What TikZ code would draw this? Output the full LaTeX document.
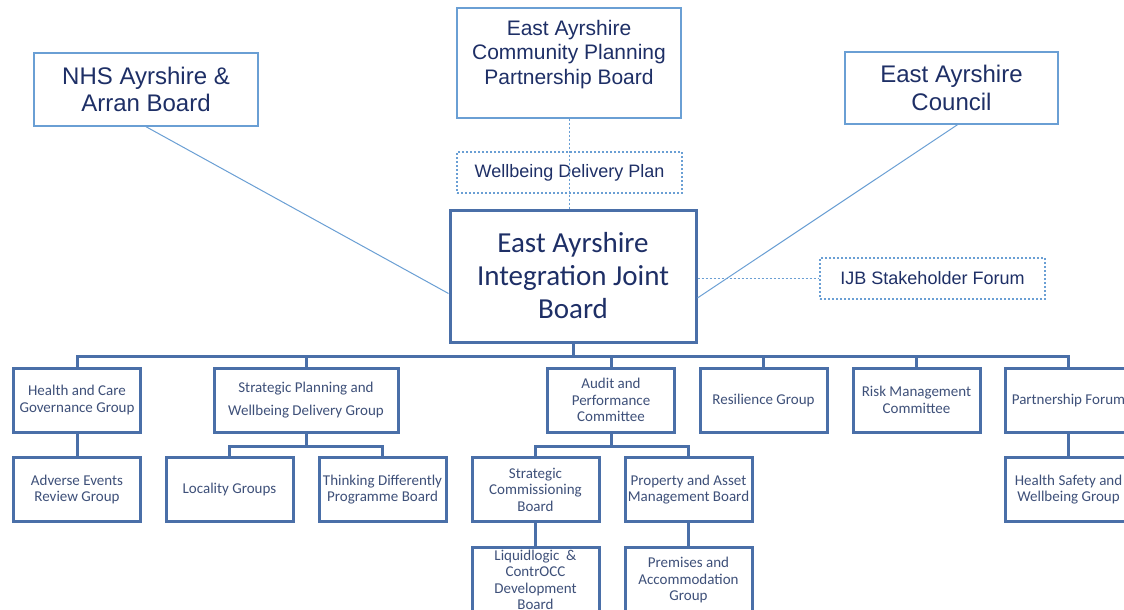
\documentclass[tikz,border=0pt]{standalone}
\usepackage{fontspec}
\newfontfamily\arialfont{Liberation Sans}
\newfontfamily\calfont{Carlito}
\usetikzlibrary{positioning}

\definecolor{boardblue}{HTML}{6A9FD4}
\definecolor{navy}{HTML}{1E2F66}
\definecolor{steel}{HTML}{4A6FA8}
\definecolor{slate}{HTML}{3E5079}

\tikzset{
  board/.style={draw=boardblue, line width=1.4pt, text=navy, align=center, inner sep=0pt},
  planbox/.style={draw=boardblue, line width=1.2pt, dash pattern=on 2pt off 2pt, text=navy,
    align=center, inner sep=0pt, font=\arialfont\fontsize{18}{20}\selectfont},
  link/.style={draw=boardblue, line width=1pt},
  dotlink/.style={draw=boardblue, line width=1pt, dash pattern=on 2pt off 2pt},
  group/.style={draw=steel, line width=3pt, text=slate, align=center, inner sep=0pt,
    minimum width=127pt, minimum height=64pt, font=\calfont\fontsize{15}{16.5}\selectfont},
  tree/.style={draw=steel, line width=3pt}
}

\begin{document}
\begin{tikzpicture}[x=1pt, y=-1pt]
    \path[use as bounding box, clip] (0,0) rectangle (1124,610);
    \fill[white] (0,0) rectangle (1124,610);

    % Partner bodies
    \node[board, minimum width=224pt, minimum height=73pt, font=\arialfont\fontsize{24}{27}\selectfont]
      (nhs) at (146,89.5) {NHS Ayrshire \&\\Arran Board};
    \node[board, minimum width=224pt, minimum height=110pt, text depth=22pt,
      font=\arialfont\fontsize{21}{24.5}\selectfont]
      (cpp) at (569,63) {East Ayrshire\\Community Planning\\Partnership Board};
    \node[board, minimum width=213pt, minimum height=72pt, font=\arialfont\fontsize{24}{28}\selectfont]
      (eac) at (951.5,88) {East Ayrshire\\Council};

    \node[planbox, minimum width=225pt, minimum height=41pt] (wdp) at (569.5,172.5) {Wellbeing Delivery Plan};
    \node[planbox, minimum width=225pt, minimum height=41pt] (sth) at (932.5,278.5) {IJB Stakeholder Forum};

    % IJB
    \node[draw=steel, line width=3pt, text=navy, align=center, inner sep=0pt,
      minimum width=246pt, minimum height=132pt, font=\calfont\fontsize{29}{33}\selectfont]
      (ijb) at (573,276) {East Ayrshire\\Integration Joint\\Board};

    \draw[link] (nhs.south) -- (ijb.188);
    \draw[link] ([xshift=6pt]eac.south) -- (ijb.350);
    \draw[dotlink] (cpp.south) -- (cpp.south |- ijb.north);
    \draw[dotlink] (sth.west -| ijb.east) -- (sth.west);

    % Committees and groups
    \node[group] (hcg) at (77,400) {Health and Care\\Governance Group};
    \node[group, minimum width=184pt, font=\calfont\fontsize{15}{23}\selectfont]
      (spw) at (306,400) {Strategic Planning and\\Wellbeing Delivery Group};
    \node[group] (apc) at (611,400) {Audit and\\Performance\\Committee};
    \node[group] (res) at (763.5,400) {Resilience Group};
    \node[group] (rmc) at (916.5,400) {Risk Management\\Committee};
    \node[group] (pfm) at (1068.5,400) {Partnership Forum};

    \node[group] (aer) at (77,489.5) {Adverse Events\\Review Group};
    \node[group] (loc) at (229.5,489.5) {Locality Groups};
    \node[group] (tdp) at (382.5,489.5) {Thinking Differently\\Programme Board};
    \node[group] (scb) at (535.5,489.5) {Strategic\\Commissioning\\Board};
    \node[group] (pam) at (688.5,489.5) {Property and Asset\\Management Board};
    \node[group] (hsw) at (1068.5,489.5) {Health Safety and\\Wellbeing Group};

    \node[group, minimum height=66pt] (lcd) at (535.5,580) {Liquidlogic \ \&\\ContrOCC\\Development\\Board};
    \node[group, minimum height=66pt] (pag) at (688.5,580) {Premises and\\Accommodation\\Group};

    % Reporting lines
    \draw[tree] (ijb.south) -- ++(0,13) coordinate (bus);
    \foreach \g in {hcg,spw,apc,res,rmc,pfm}
      \draw[tree] (bus) -| (\g.north);
    \foreach \g in {loc,tdp}
      \draw[tree] (spw.south) -- ++(0,13) -| (\g.north);
    \foreach \g in {scb,pam}
      \draw[tree] (apc.south) -- ++(0,13) -| (\g.north);
    \draw[tree] (hcg) -- (aer);
    \draw[tree] (pfm) -- (hsw);
    \draw[tree] (scb) -- (lcd);
    \draw[tree] (pam) -- (pag);
\end{tikzpicture}
\end{document}
